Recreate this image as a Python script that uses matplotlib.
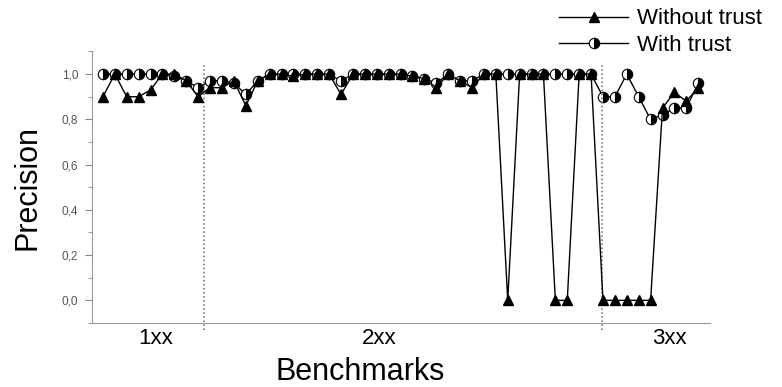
import matplotlib.pyplot as plt
from matplotlib.ticker import MultipleLocator

plt.rcParams['font.family'] = ['Liberation Sans', 'DejaVu Sans']

# precision per benchmark test, in test order (1xx, 2xx, 3xx)
without_trust = [0.90, 1.00, 0.90, 0.90, 0.93, 1.00, 1.00, 0.97, 0.90,
                 0.94, 0.94, 0.97, 0.86, 0.97, 1.00, 1.00, 0.99, 1.00, 1.00,
                 1.00, 0.91, 1.00, 1.00, 1.00, 1.00, 1.00, 0.99, 0.98, 0.94,
                 1.00, 0.97, 0.94, 1.00, 1.00, 0.00, 1.00, 1.00, 1.00, 0.00,
                 0.00, 1.00, 1.00,
                 0.00, 0.00, 0.00, 0.00, 0.00, 0.85, 0.92, 0.88, 0.94]
with_trust = [1.00, 1.00, 1.00, 1.00, 1.00, 1.00, 0.99, 0.97, 0.94,
              0.97, 0.97, 0.96, 0.91, 0.97, 1.00, 1.00, 1.00, 1.00, 1.00,
              1.00, 0.97, 1.00, 1.00, 1.00, 1.00, 1.00, 0.99, 0.98, 0.96,
              1.00, 0.97, 0.97, 1.00, 1.00, 1.00, 1.00, 1.00, 1.00, 1.00,
              1.00, 1.00, 1.00,
              0.90, 0.90, 1.00, 0.90, 0.80, 0.82, 0.85, 0.85, 0.96]
groups = ['1xx', '2xx', '3xx']
group_centers = [4.4, 23.2, 47.6]
group_bounds = [8.5, 41.9]
yticks = [0.0, 0.2, 0.4, 0.6, 0.8, 1.0]
ytick_labels = ['0,0', '0,2', '0,4', '0,6', '0,8', '1,0']

x = list(range(len(with_trust)))

fig = plt.figure(figsize=(7.82, 3.87), dpi=100)
ax = fig.add_axes([0.1176, 0.1654, 0.7905, 0.7016])

l1, = ax.plot(x, without_trust, color='black', lw=1.0, marker='^',
              markersize=7.5, markerfacecolor='black', zorder=3)
l2, = ax.plot(x, with_trust, color='black', lw=1.0, marker='o',
              markersize=7.5, fillstyle='right', markerfacecolor='black',
              markerfacecoloralt='white', markeredgecolor='black',
              markeredgewidth=0.8, zorder=2)

for b in group_bounds:
    ax.plot([b, b], [-0.13, 1.05], color='#666666', lw=1.1, ls=':',
            clip_on=False)

ax.set_xlim(-0.92, 51.0)
ax.set_ylim(-0.1, 1.1)
ax.set_xticks([])
ax.set_yticks(yticks)
ax.set_yticklabels(ytick_labels, fontsize=8.5, color='#555555')
ax.yaxis.set_minor_locator(MultipleLocator(0.1))
ax.tick_params(axis='y', which='major', length=5, color='#888888', pad=5)
ax.tick_params(axis='y', which='minor', length=3, color='#888888')

for s in ['top', 'right']:
    ax.spines[s].set_visible(False)
for s in ['left', 'bottom']:
    ax.spines[s].set_color('#999999')

for g, c in zip(groups, group_centers):
    ax.text(c, -0.17, g, ha='center', va='center', fontsize=16)

ax.set_ylabel('Precision', fontsize=22, labelpad=14)
fig.text(0.46, 0.04, 'Benchmarks', ha='center', va='center', fontsize=22)

fig.legend([l1, l2], ['Without trust', 'With trust'], loc='upper right',
           bbox_to_anchor=(1.0, 1.03), frameon=False, fontsize=16,
           handlelength=3.1, handletextpad=0.4, labelspacing=0.25)

fig.savefig('out.png', dpi=100)
